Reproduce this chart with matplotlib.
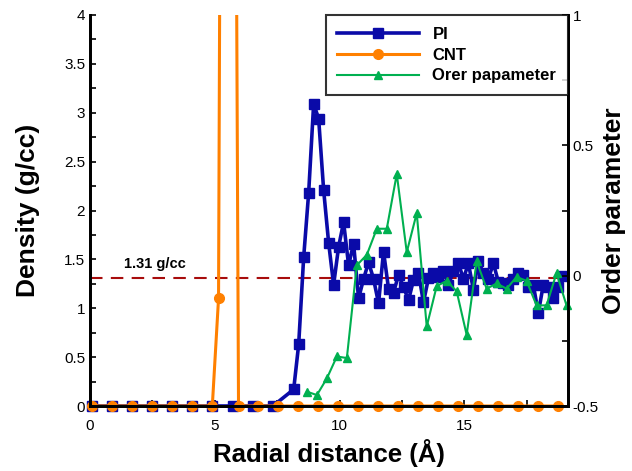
import numpy as np
import matplotlib
matplotlib.use("Agg")
import matplotlib.pyplot as plt
from matplotlib.patches import Rectangle
from matplotlib.ticker import MultipleLocator, FormatStrFormatter

plt.rcParams['font.family'] = ['Liberation Sans', 'DejaVu Sans']

# ---------------- data ----------------
pi_x = [0.1, 0.9, 1.7, 2.5, 3.3, 4.1, 4.9, 5.73, 6.53, 7.33,
        8.16, 8.36, 8.56, 8.76, 8.96, 9.16, 9.36, 9.56, 9.76, 9.96,
        10.16, 10.36, 10.56, 10.76, 10.96, 11.16, 11.36, 11.56, 11.76, 11.96,
        12.16, 12.36, 12.56, 12.76, 12.96, 13.16, 13.36, 13.56, 13.76, 13.96,
        14.16, 14.36, 14.56, 14.76, 14.96, 15.16, 15.36, 15.56, 15.76, 15.96,
        16.16, 16.36, 16.56, 16.76, 16.96, 17.16, 17.36, 17.56, 17.76, 17.96,
        18.16, 18.36, 18.56, 18.76, 18.96]
pi_y = [0, 0, 0, 0, 0, 0, 0, 0, 0, 0,
        0.17, 0.63, 1.52, 2.18, 3.09, 2.94, 2.21, 1.67, 1.24, 1.63,
        1.88, 1.44, 1.66, 1.10, 1.30, 1.47, 1.30, 1.05, 1.58, 1.20,
        1.16, 1.34, 1.22, 1.08, 1.29, 1.36, 1.06, 1.31, 1.36, 1.32,
        1.38, 1.24, 1.38, 1.46, 1.30, 1.46, 1.19, 1.48, 1.36, 1.30,
        1.46, 1.27, 1.26, 1.24, 1.30, 1.36, 1.34, 1.22, 1.24, 0.95,
        1.24, 1.22, 1.10, 1.22, 1.33]

cnt_x = [0.1, 0.9, 1.7, 2.5, 3.3, 4.1, 4.9, 5.15, 5.5, 5.95,
         6.75, 7.55, 8.35, 9.15, 9.95, 10.75, 11.55, 12.35, 13.15, 13.95,
         14.75, 15.55, 16.35, 17.15, 17.95, 18.75]
cnt_y = [0, 0, 0, 0, 0, 0, 0, 1.1, 25.0, 0,
         0, 0, 0, 0, 0, 0, 0, 0, 0, 0,
         0, 0, 0, 0, 0, 0]

op_x = [8.69, 9.09, 9.49, 9.89, 10.29, 10.69, 11.09, 11.49, 11.89, 12.29,
        12.69, 13.09, 13.49, 13.89, 14.29, 14.69, 15.09, 15.49, 15.89, 16.29,
        16.69, 17.09, 17.49, 17.89, 18.29, 18.69, 19.09]
op_y = [-0.445, -0.458, -0.394, -0.31, -0.316, 0.04, 0.08, 0.18, 0.18, 0.39,
        0.09, 0.24, -0.195, -0.04, -0.02, -0.06, -0.227, 0.055, -0.05, -0.03,
        -0.05, -0.005, -0.02, -0.114, -0.114, 0.01, -0.114]

ref_density = 1.31
ref_label = "1.31 g/cc"

# ---------------- figure ----------------
fig = plt.figure(figsize=(6.32, 4.71), dpi=100)
ax = fig.add_axes([90/632, 1-406/471, (568-90)/632, (406-15)/471])
ax2 = ax.twinx()

blue = '#0a0aa8'
orange = '#ff8000'
green = '#00b050'

l_pi, = ax.plot(pi_x, pi_y, color=blue, lw=2.6, marker='s', ms=6.5,
                label='PI', clip_on=False, zorder=2)
l_cnt, = ax.plot(cnt_x, cnt_y, color=orange, lw=2.2, marker='o', ms=7,
                 label='CNT', zorder=2.1)
clip = Rectangle((-0.03, -0.05), 1.06, 1.05, transform=ax.transAxes,
                 facecolor='none', edgecolor='none')
ax.add_patch(clip)
l_cnt.set_clip_path(clip)

ax.axhline(ref_density, color='#a80c0c', lw=1.5, ls=(0, (6, 4)), zorder=1.5)
ax.text(1.36, 1.45, ref_label, fontsize=10.5, fontweight='bold', va='center', ha='left')

l_op, = ax2.plot(op_x, op_y, color=green, lw=1.5, marker='^', ms=6,
                 label='Orer papameter', clip_on=False)

ax.set_xlim(0, 19.15)
ax.set_ylim(0, 4)
ax2.set_ylim(-0.5, 1)

ax.xaxis.set_major_locator(MultipleLocator(5))
ax.xaxis.set_minor_locator(MultipleLocator(2.5))
ax.yaxis.set_major_locator(MultipleLocator(0.5))
ax.yaxis.set_minor_locator(MultipleLocator(0.25))
ax.yaxis.set_major_formatter(FormatStrFormatter('%g'))
ax2.yaxis.set_major_locator(MultipleLocator(0.5))
ax2.yaxis.set_minor_locator(MultipleLocator(0.25))
ax2.yaxis.set_major_formatter(FormatStrFormatter('%g'))

for a in (ax, ax2):
    a.tick_params(which='both', direction='in', length=4, width=1.2, labelsize=11)
    for s in a.spines.values():
        s.set_linewidth(2)
    a.spines['top'].set_visible(False)
ax.tick_params(axis='x', pad=9)

ax.set_xlabel('Radial distance (Å)', fontsize=18.5, fontweight='bold', labelpad=5)
ax.set_ylabel('Density (g/cc)', fontsize=19, fontweight='bold', labelpad=17)
ax2.set_ylabel('Order parameter', fontsize=19, fontweight='bold', labelpad=2)

leg = ax2.legend(handles=[l_pi, l_cnt, l_op], loc='upper right',
                 bbox_to_anchor=(1.0, 1.0), frameon=True, fancybox=False,
                 borderaxespad=0, handlelength=4.9,
                 prop={'weight': 'bold', 'size': 12}, labelspacing=0.35,
                 borderpad=0.7, handletextpad=0.8)
leg.get_frame().set_edgecolor('black')
leg.get_frame().set_linewidth(1.5)

fig.savefig('out.png', dpi=100)
